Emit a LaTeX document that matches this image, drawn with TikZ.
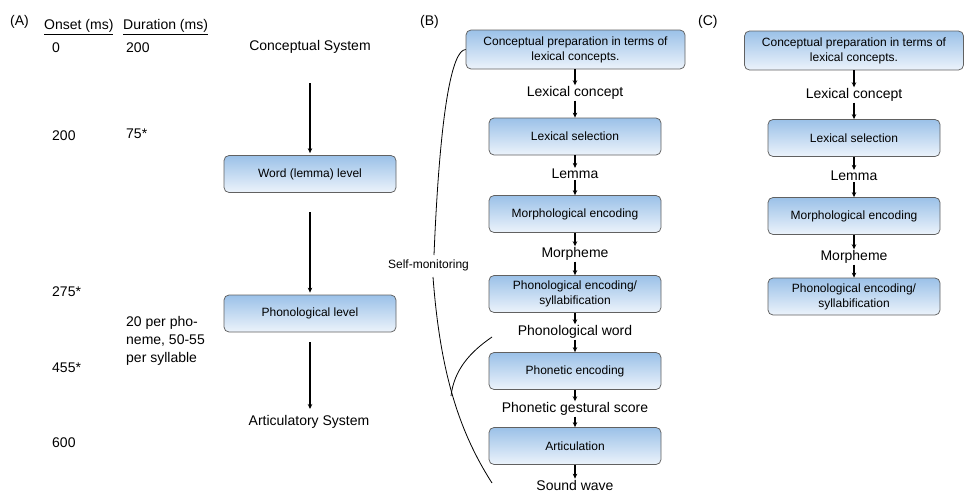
\documentclass[tikz,border=0pt]{standalone}
\usepackage{fontspec}
\setmainfont{Liberation Sans}
\usetikzlibrary{arrows.meta}
\definecolor{boxtop}{RGB}{155,193,232}
\definecolor{boxbot}{RGB}{236,243,251}
\begin{document}
\begin{tikzpicture}[x=1pt,y=-1pt,
  box/.style={draw=black!62, line width=0.75pt, rounded corners=5pt, top color=boxtop, bottom color=boxbot,
    minimum width=172pt, minimum height=37pt, align=center, font=\fontsize{12}{15}\selectfont, inner sep=2pt},
  widebox/.style={box, minimum width=219pt, minimum height=39pt},
  lab/.style={font=\fontsize{14}{16}\selectfont, inner sep=1pt},
  txt/.style={font=\fontsize{14}{18}\selectfont, inner sep=0pt, anchor=west},
  arr/.style={-{Stealth[length=5pt,width=4.5pt]}, line width=1.1pt},
  mon/.style={line width=0.8pt}]
\useasboundingbox (0,0) rectangle (965,493);
% ---------- (A)
\node[txt] (A) at (10,22) {(A)};
\node[txt] (hon) at (44,27) {\underline{Onset (ms)}};
\node[txt] (hdu) at (123,27) {\underline{Duration (ms)}};
\node[txt] (o1) at (52,48) {0};
\node[txt] (d1) at (126,48) {200};
\node[txt] (o2) at (52,136) {200};
\node[txt] (d2) at (126,134) {75*};
\node[txt] (o3) at (52,292) {275*};
\node[txt,align=left] (d3) at (126,341) {20 per pho-\\neme, 50-55\\per syllable};
\node[txt] (o4) at (52,368) {455*};
\node[txt] (o5) at (52,443) {600};
\node[lab] (cs) at (310,47) {Conceptual System};
\node[box] (wl) at (310,174) {Word (lemma) level};
\node[box] (pl) at (310,313.5) {Phonological level};
\node[lab] (as) at (309,422) {Articulatory System};
\coordinate (a1s) at (310,83);
\coordinate (a2s) at (310,212);
\coordinate (a3s) at (310,342);
\coordinate (a3e) at (310,409);
\draw[arr,shorten >=2pt] (a1s) -- (wl.north);
\draw[arr,shorten >=2pt] (a2s) -- (pl.north);
\draw[arr] (a3s) -- (a3e);
% ---------- (B)
\node[txt] (B) at (420,22) {(B)};
\node[widebox] (b1) at (575.5,49.5) {Conceptual preparation in terms of\\lexical concepts.};
\node[lab] (blc) at (575,93) {Lexical concept};
\node[box] (b2) at (575,136.5) {Lexical selection};
\node[lab] (blm) at (575,174) {Lemma};
\node[box] (b3) at (575,214) {Morphological encoding};
\node[lab] (bmo) at (575,254) {Morpheme};
\node[box] (b4) at (575,294) {Phonological encoding/\\syllabification};
\node[lab] (bpw) at (575,332) {Phonological word};
\node[box] (b5) at (575,371) {Phonetic encoding};
\node[lab] (bgs) at (575,409) {Phonetic gestural score};
\node[box] (b6) at (575,446) {Articulation};
\node[lab] (bsw) at (575,485) {Sound wave};
\draw[arr] (b1.south -| blc) -- (blc);
\draw[arr] (blc) -- (b2);
\draw[arr] (b2) -- (blm);
\draw[arr] (blm) -- (b3);
\draw[arr] (b3) -- (bmo);
\draw[arr] (bmo) -- (b4);
\draw[arr] (b4) -- (bpw);
\draw[arr] (bpw) -- (b5);
\draw[arr] (b5) -- (bgs);
\draw[arr] (bgs) -- (b6);
\draw[arr] (b6) -- (bsw);
\node[font=\fontsize{12}{14}\selectfont, inner sep=1pt] (sm) at (428.5,265) {Self-monitoring};
\coordinate (m1) at (434,255);
\coordinate (m2) at (433,277);
\coordinate (m3) at (492,483);
\coordinate (m4) at (492,337);
\coordinate (m5) at (451,396);
\draw[mon] (b1.west) .. controls (452,50) and (440,110) .. (m1);
\draw[mon] (m2) .. controls (440,370) and (458,430) .. (m3);
\draw[mon] (m4) .. controls (470,352) and (454,370) .. (m5);
% ---------- (C)
\node[txt] (C) at (698,22) {(C)};
\node[widebox] (c1) at (854,50.5) {Conceptual preparation in terms of\\lexical concepts.};
\node[lab] (clc) at (854,95) {Lexical concept};
\node[box] (c2) at (854,138) {Lexical selection};
\node[lab] (clm) at (854,176) {Lemma};
\node[box] (c3) at (854,216) {Morphological encoding};
\node[lab] (cmo) at (854,257) {Morpheme};
\node[box] (c4) at (854,296.5) {Phonological encoding/\\syllabification};
\draw[arr] (c1) -- (clc);
\draw[arr] (clc) -- (c2);
\draw[arr] (c2) -- (clm);
\draw[arr] (clm) -- (c3);
\draw[arr] (c3) -- (cmo);
\draw[arr] (cmo) -- (c4);
\end{tikzpicture}
\end{document}
